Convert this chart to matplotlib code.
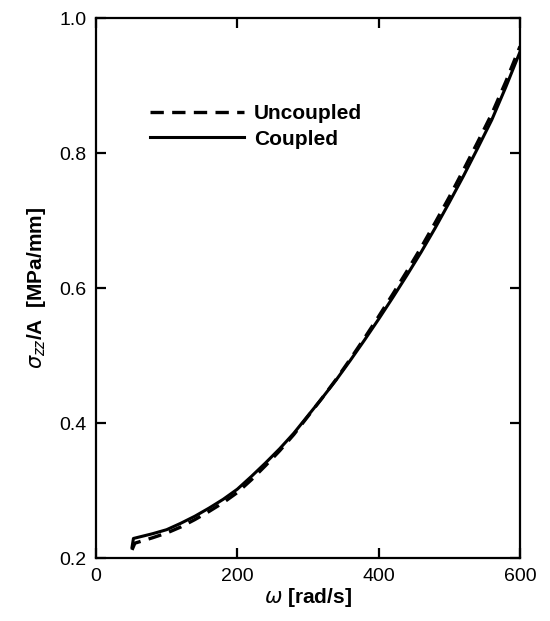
import numpy as np
import matplotlib
matplotlib.use('Agg')
import matplotlib.pyplot as plt

# Data
omega_coupled = [51, 53, 80, 100, 120, 140, 160, 180, 200, 220, 240, 260, 280, 300,
                 320, 340, 360, 380, 400, 420, 440, 460, 480, 500, 520, 540, 560, 580, 600]
sigma_coupled = [0.216, 0.229, 0.236, 0.242, 0.2515, 0.262, 0.274, 0.287, 0.302, 0.321,
                 0.341, 0.362, 0.385, 0.411, 0.437, 0.464, 0.493, 0.523, 0.554, 0.586,
                 0.619, 0.653, 0.689, 0.727, 0.766, 0.807, 0.849, 0.898, 0.950]

omega_uncoupled = [51, 55, 80, 100, 120, 140, 160, 180, 200, 220, 240, 260, 280, 300,
                   320, 340, 360, 380, 400, 420, 440, 460, 480, 500, 520, 540, 560, 580, 600]
sigma_uncoupled = [0.212, 0.222, 0.230, 0.237, 0.246, 0.257, 0.269, 0.282, 0.297, 0.316,
                   0.337, 0.359, 0.383, 0.410, 0.437, 0.465, 0.495, 0.526, 0.558, 0.591,
                   0.625, 0.660, 0.697, 0.735, 0.775, 0.816, 0.858, 0.906, 0.958]

x_ticks = [0, 200, 400, 600]
y_ticks = [0.2, 0.4, 0.6, 0.8, 1.0]

plt.rcParams['font.family'] = ['Liberation Sans', 'DejaVu Sans']
plt.rcParams['mathtext.fontset'] = 'dejavusans'


def main():
    fig = plt.figure(figsize=(5.5, 6.21), dpi=100)
    ax = fig.add_axes([0.1745, 0.1014, 0.771, 0.8696])

    ax.plot(omega_uncoupled, sigma_uncoupled, color='black', lw=2.4,
            dashes=(4, 2.5), label='Uncoupled')
    ax.plot(omega_coupled, sigma_coupled, color='black', lw=2.2, label='Coupled')

    ax.set_xlim(0, 600)
    ax.set_ylim(0.2, 1.0)
    ax.set_xticks(x_ticks)
    ax.set_yticks(y_ticks)
    ax.set_xticklabels([str(t) for t in x_ticks])
    ax.set_yticklabels(['%.1f' % t for t in y_ticks])

    ax.tick_params(direction='in', length=7, width=1.6, labelsize=14,
                   top=True, right=True, pad=7)
    for s in ax.spines.values():
        s.set_linewidth(1.6)

    ax.set_xlabel(r'$\omega$ [rad/s]', fontsize=15, fontweight='bold', labelpad=1)
    ax.set_ylabel(r'$\sigma_{zz}$/A  [MPa/mm]', fontsize=15, fontweight='bold', labelpad=8)

    ax.legend(loc='upper left', bbox_to_anchor=(0.127, 0.84), frameon=False,
              borderaxespad=0, borderpad=0, handlelength=4.5, handletextpad=0.5,
              labelspacing=0.3, prop={'weight': 'bold', 'size': 15})

    fig.savefig('out.png', dpi=100)


if __name__ == '__main__':
    main()
